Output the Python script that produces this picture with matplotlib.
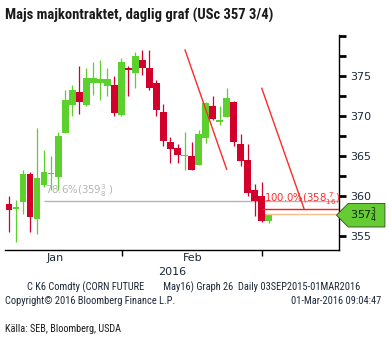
import matplotlib
matplotlib.use("Agg")
import matplotlib.pyplot as plt
from matplotlib.path import Path
import numpy as np

# ---- data (candles, left to right) ----
opens  = [359.0, 358.35, 359.2, 362.75, 357.1, 361.4, 362.7, 362.4, 367.9, 371.4,
          373.0, 371.4, 374.1, 374.1, 373.8, 373.9, 370.1, 376.0, 375.4, 377.0,
          375.95, 374.1, 370.5, 366.7, 366.0, 364.95, 365.0, 363.9, 367.2, 371.25,
          369.25, 369.9, 371.8, 366.5, 364.5, 360.75, 360.0, 356.9]
highs  = [360.0, 359.5, 363.25, 362.95, 368.5, 365.75, 365.0, 368.0, 373.2, 373.9,
          376.25, 376.0, 376.8, 377.0, 376.0, 375.0, 377.2, 376.3, 378.0, 378.25,
          378.25, 374.5, 371.5, 367.4, 366.5, 368.0, 366.8, 368.25, 371.8, 372.5,
          371.25, 373.5, 371.9, 367.7, 366.5, 361.5, 361.7, 357.8]
lows   = [355.5, 354.3, 357.8, 355.5, 355.25, 361.1, 360.75, 360.8, 367.9, 370.0,
          370.3, 371.3, 372.6, 372.0, 372.5, 370.0, 370.0, 372.5, 373.5, 375.1,
          373.2, 370.0, 366.25, 364.1, 364.1, 363.25, 363.25, 363.9, 366.6, 369.5,
          368.9, 369.9, 366.25, 363.7, 360.0, 357.5, 356.8, 356.6]
closes = [358.3, 358.45, 362.75, 357.4, 362.3, 363.0, 362.8, 367.5, 372.0, 373.25,
          371.7, 374.7, 374.7, 374.6, 374.6, 370.4, 376.8, 375.7, 377.5, 375.95,
          373.5, 370.7, 366.9, 365.9, 365.1, 365.05, 363.3, 367.7, 371.6, 369.6,
          369.35, 372.2, 366.7, 364.4, 360.4, 359.4, 356.9, 357.75]

month_labels = ["Jan", "Feb"]
month_label_pos = [6.55, 26.1]
month_sep_pos = [16.05, 36.1]
year_label = "2016"

trend1_x = [25.07, 31.0]
trend1_y = [378.25, 363.34]
trend2_x = [36.0, 42.0]
trend2_y = [373.46, 358.46]

fib786_level = 359.375
fib786_start = 5.0
fib100_level = 358.4375
fib100_start = 36.0
last_price = 357.75
last_start = 36.5

y_major = [355, 360, 365, 370, 375]
y_minor = [357.5, 362.5, 367.5, 372.5, 377.5, 380]

GREEN = "#5cd12e"
RED = "#d4002c"
NARROW = ["Roboto Condensed", "Open Sans Condensed", "Roboto", "DejaVu Sans"]


def tag_box(x0, y0, width, height, mutation_size):
    pad = 0.18 * mutation_size
    x0 -= pad
    y0 -= pad
    width += 2 * pad + 0.5 * mutation_size
    height += 2 * pad
    tip = height / 2
    verts = [(x0 - tip, y0 + height / 2), (x0, y0), (x0 + width, y0),
             (x0 + width, y0 + height), (x0, y0 + height), (x0 - tip, y0 + height / 2)]
    return Path(verts, closed=True)


W, H = 389, 343
fig = plt.figure(figsize=(W / 100, H / 100), dpi=100)
fig.patch.set_facecolor("white")
ax = fig.add_axes([5 / W, 1 - 250 / H, (339 - 5) / W, (250 - 35) / H])

x = np.arange(len(opens))
o = np.array(opens); c = np.array(closes); h = np.array(highs); l = np.array(lows)
up = c >= o
colors = np.where(up, GREEN, RED)
ax.vlines(x, l, h, colors=colors, linewidth=0.9, zorder=2)
bottoms = np.minimum(o, c)
heights = np.maximum(np.abs(c - o), 0.22)
ax.bar(x, heights, bottom=bottoms, width=0.96, color=colors, linewidth=0, zorder=3)

ax.plot(trend1_x, trend1_y, color="#ff2a2a", lw=1.0, zorder=4)
ax.plot(trend2_x, trend2_y, color="#ff2a2a", lw=1.0, zorder=4)

xmin, xmax = -0.57, 47.0
ax.set_xlim(xmin, xmax)
ax.set_ylim(353.25, 380.125)

ax.hlines(fib786_level, fib786_start, xmax, color="#b4b4b4", lw=1.0, zorder=1)
ax.hlines(fib100_level, fib100_start, xmax, color="#ff1a1a", lw=1.0, zorder=4)
ax.hlines(last_price, last_start, xmax, color="#f9c08a", lw=1.0, zorder=4)
ax.text(fib786_start + 0.15, fib786_level + 0.25, r"78.6%(359$^{3}_{8}$ )",
        color="#b4b4b4", fontsize=7.3, va="bottom", ha="left", zorder=5)
ax.text(fib100_start + 0.3, fib100_level + 0.2, r"100.0%(358$^{\ 7}_{16}$)",
        color="#ff2a2a", fontsize=7.3, va="bottom", ha="left", zorder=5)

for s in ["top", "left"]:
    ax.spines[s].set_visible(False)
ax.spines["bottom"].set_linewidth(1.0)
ax.spines["right"].set_linewidth(1.0)

ax.yaxis.tick_right()
ax.set_yticks(y_major)
ax.set_yticks(y_minor, minor=True)
ax.set_yticklabels([str(v) for v in y_major])
ax.tick_params(axis="y", which="both", direction="out", length=5, width=2,
               color="black", labelsize=8, labelcolor="#1b2838", pad=3)

ax.set_xticks(month_sep_pos)
ax.set_xticklabels(["", ""])
ax.set_xticks(month_label_pos, minor=True)
ax.set_xticklabels(month_labels, minor=True)
ax.tick_params(axis="x", which="major", direction="out", length=4, width=1, color="black")
ax.tick_params(axis="x", which="minor", length=0, labelsize=8, labelcolor="#1b2838", pad=2)

ax.text(xmax + 1.6, last_price - 0.15, r"357$^{3}_{4}$", fontsize=8, color="#10240a",
        va="center", ha="left", zorder=6, clip_on=False,
        bbox=dict(boxstyle=tag_box, fc="#66cc33", ec="#2f4a22", lw=0.6))

fig.text(5 / W, 1 - 15 / H, "Majs majkontraktet, daglig graf (USc 357 3/4)",
         fontsize=10.5, fontweight="bold", family=NARROW, color="#1a1a1a",
         va="center", ha="left")
fig.text(172 / W, 1 - 272 / H, year_label, fontsize=8, color="#1b2838",
         va="center", ha="center")
fig.text(27 / W, 1 - 287 / H,
         "C K6 Comdty (CORN FUTURE        May16) Graph 26  Daily 03SEP2015-01MAR2016",
         fontsize=7.5, family=NARROW, color="#1b2838", va="center", ha="left")
fig.text(5 / W, 1 - 300.5 / H, "Copyright\u00a9 2016 Bloomberg Finance L.P.",
         fontsize=7.5, family=NARROW, color="#1b2838", va="center", ha="left")
fig.text(381 / W, 1 - 300.5 / H, "01-Mar-2016 09:04:47",
         fontsize=7.5, family=NARROW, color="#1b2838", va="center", ha="right")
fig.text(5 / W, 1 - 329 / H, "Källa: SEB, Bloomberg, USDA",
         fontsize=7.4, family=NARROW, color="#1a1a1a", va="center", ha="left")

fig.savefig("out.png", dpi=100, facecolor="white")
